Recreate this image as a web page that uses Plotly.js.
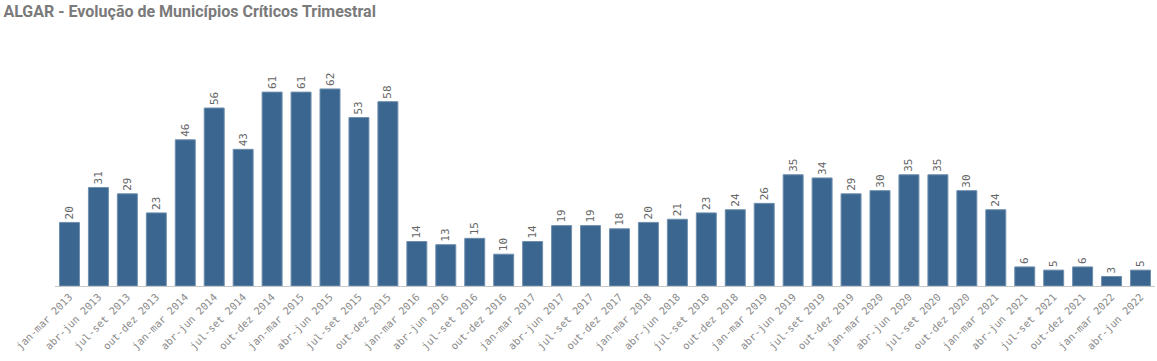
<!DOCTYPE html>
<html><head><meta charset="utf-8">
<script src="https://cdn.plot.ly/plotly-3.0.1.min.js"></script>
<style>body{margin:0;padding:0;background:#fff}#chart{width:1157px;height:361px}</style>
</head><body><div id="chart"></div>
<script>
const categories = ["jan-mar 2013","abr-jun 2013","jul-set 2013","out-dez 2013","jan-mar 2014","abr-jun 2014","jul-set 2014","out-dez 2014","jan-mar 2015","abr-jun 2015","jul-set 2015","out-dez 2015","jan-mar 2016","abr-jun 2016","jul-set 2016","out-dez 2016","jan-mar 2017","abr-jun 2017","jul-set 2017","out-dez 2017","jan-mar 2018","abr-jun 2018","jul-set 2018","out-dez 2018","jan-mar 2019","abr-jun 2019","jul-set 2019","out-dez 2019","jan-mar 2020","abr-jun 2020","jul-set 2020","out-dez 2020","jan-mar 2021","abr-jun 2021","jul-set 2021","out-dez 2021","jan-mar 2022","abr-jun 2022"];
const values = [20,31,29,23,46,56,43,61,61,62,53,58,14,13,15,10,14,19,19,18,20,21,23,24,26,35,34,29,30,35,35,30,24,6,5,6,3,5];

const trace = {
  type: 'bar', x: categories, y: values,
  marker: {color: '#3b6690', line: {color: '#6f8fae', width: 1}},
  text: values.map(String), textposition: 'outside', textangle: -90,
  textfont: {family: 'DejaVu Sans Mono', size: 11, color: '#666'},
  cliponaxis: false, hoverinfo: 'x+y'
};
const layout = {
  width: 1157, height: 361,
  margin: {l: 55, r: 2, t: 40, b: 75},
  paper_bgcolor: '#fff', plot_bgcolor: '#fff',
  title: {text: '<b>ALGAR - Evolução de Municípios Críticos Trimestral</b>', x: 0.003, xanchor: 'left', y: 0.985, yanchor: 'top',
          font: {family: 'Roboto', size: 16, color: '#7a7a7a'}},
  bargap: 0.31,
  xaxis: {tickangle: -45, tickfont: {family: 'DejaVu Sans Mono', size: 10.3, color: '#8a8a8a'},
          showline: true, linecolor: '#c8c8c8', linewidth: 1, ticks: '', showgrid: false, automargin: false},
  yaxis: {range: [0, 77.4], visible: false, showgrid: false, zeroline: false},
  showlegend: false
};
Plotly.newPlot('chart', [trace], layout, {displayModeBar: false});
</script></body></html>
